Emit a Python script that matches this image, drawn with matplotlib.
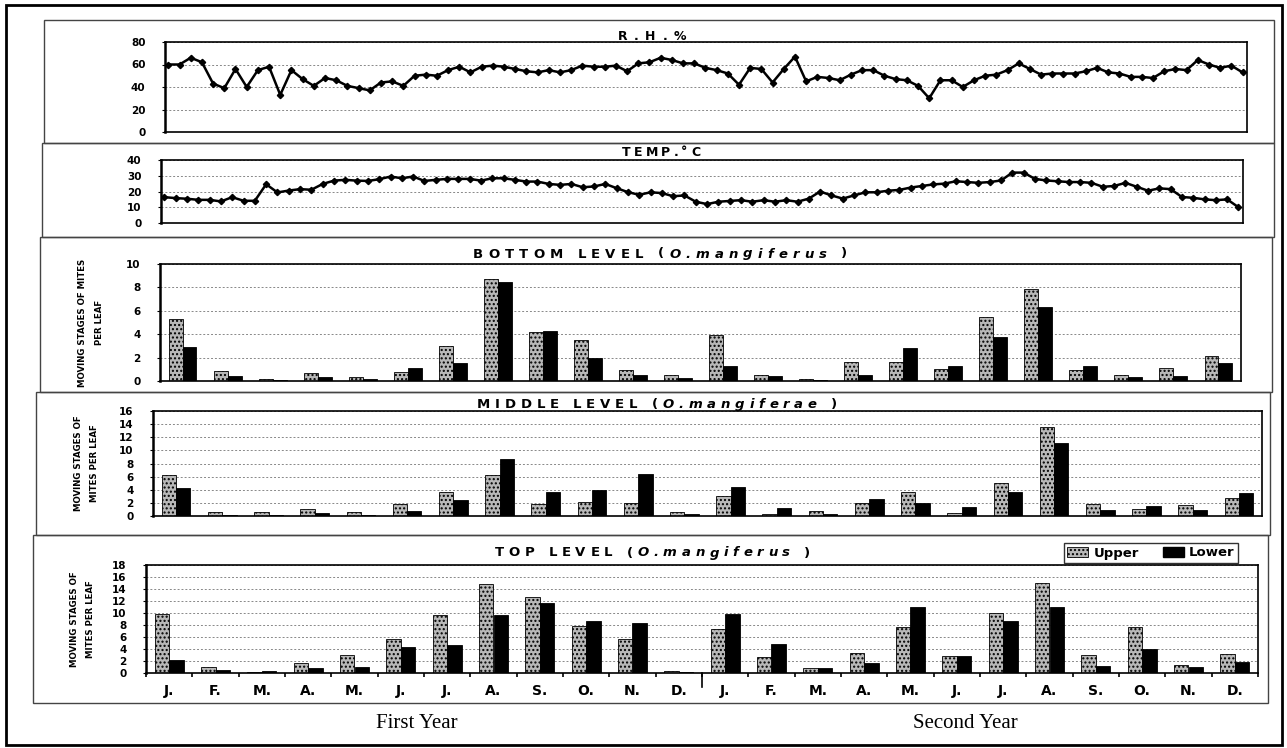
import numpy as np
import matplotlib.pyplot as plt
from matplotlib.patches import Rectangle, Patch

W, H = 1287, 748

# weekly climate readings over the two seasons
rh = [60, 60, 66, 62, 43, 39, 56, 40, 55, 58, 33, 55, 47, 41, 48, 46, 41, 39, 37, 44,
      45, 41, 50, 51, 50, 55, 58, 53, 58, 59, 58, 56, 54, 53, 55, 53, 55, 59, 58, 58,
      59, 54, 61, 62,
      66, 64, 61, 61, 57, 55, 52, 42, 57, 56, 44, 56, 67, 45, 49, 48, 46, 51, 55, 55,
      50, 47, 46, 41, 30, 46, 46, 40, 46, 50, 51, 55, 61, 56, 51, 52, 52, 52, 54, 57,
      53, 52, 49, 49, 48, 54, 56, 55, 64, 60, 57, 59, 53]
temp = [16.4, 15.8, 15.4, 14.7, 14.7, 13.7, 16.4, 14.1, 14.1, 24.6, 19.4, 20.6, 21.5,
        21.1, 24.8, 26.9, 27.4, 26.9, 26.7, 27.8, 29.5, 28.4, 29.5, 26.7, 27.4, 28.0,
        28.0, 28.0, 26.9, 28.4, 28.4, 27.4, 26.3, 26.3, 24.8, 24.2, 24.8, 22.7, 23.2,
        24.8, 22.1, 19.6, 17.9,
        19.5, 19.0, 17.0, 17.5, 13.5, 12.0, 13.5, 14.0, 14.5, 13.5, 14.5, 13.5, 14.5,
        13.5, 15.5, 20.0, 17.5, 15.5, 17.5, 19.5, 19.5, 20.5, 21.0, 22.5, 23.5, 24.5,
        25.0, 26.5, 26.0, 25.5, 26.0, 27.0, 32.0, 32.0, 28.0, 27.0, 26.5, 26.0, 26.0,
        25.5, 23.0, 23.5, 25.5, 23.0, 20.5, 22.0, 21.5, 16.5, 16.0, 15.0, 14.5, 15.0,
        10.0]

months = ["J.", "F.", "M.", "A.", "M.", "J.", "J.", "A.", "S.", "O.", "N.", "D."] * 2

# moving stages of mites per leaf, upper / lower leaf surface
bottom_upper = [5.3, 0.85, 0.2, 0.7, 0.35, 0.75, 3.0, 8.7, 4.15, 3.5, 0.9, 0.55,
                3.95, 0.55, 0.15, 1.6, 1.6, 1.0, 5.5, 7.9, 0.95, 0.5, 1.1, 2.1]
bottom_lower = [2.9, 0.45, 0.1, 0.35, 0.17, 1.1, 1.5, 8.5, 4.3, 1.95, 0.55, 0.25,
                1.25, 0.4, 0.12, 0.55, 2.8, 1.3, 3.8, 6.3, 1.3, 0.3, 0.45, 1.55]
middle_upper = [6.3, 0.55, 0.55, 1.0, 0.6, 1.9, 3.7, 6.2, 1.9, 2.1, 2.0, 0.6,
                3.0, 0.3, 0.8, 2.0, 3.6, 0.4, 5.0, 13.6, 1.9, 1.1, 1.7, 2.7]
middle_lower = [4.2, 0.15, 0.15, 0.45, 0.12, 0.7, 2.4, 8.7, 3.6, 4.0, 6.4, 0.25,
                4.4, 1.15, 0.3, 2.6, 2.0, 1.3, 3.7, 11.2, 0.9, 1.5, 0.9, 3.5]
top_upper = [9.9, 1.0, 0.2, 1.7, 3.0, 5.6, 9.7, 14.9, 12.6, 7.8, 5.6, 0.3,
             7.4, 2.7, 0.8, 3.4, 7.6, 2.8, 10.0, 15.0, 3.0, 7.6, 1.3, 3.2]
top_lower = [2.2, 0.5, 0.4, 0.8, 1.0, 4.3, 4.7, 9.6, 11.6, 8.6, 8.4, 0.1,
             9.8, 4.8, 0.8, 1.7, 11.0, 2.8, 8.6, 11.0, 1.1, 4.0, 1.0, 1.8]

plt.rcParams['font.family'] = ['DejaVu Sans']

fig = plt.figure(figsize=(W / 100, H / 100), dpi=100)
renderer = fig.canvas.get_renderer()


def px_axes(l, t, r, b):
    return fig.add_axes([l / W, 1 - b / H, (r - l) / W, (b - t) / H])


def px_frame(l, t, r, b, lw=1.0, color='#444444'):
    fig.patches.append(Rectangle((l / W, 1 - b / H), (r - l) / W, (b - t) / H,
                                 transform=fig.transFigure, fill=False,
                                 lw=lw, ec=color))


def style_axes(ax, ticks):
    ax.set_yticks(ticks)
    ax.set_ylim(ticks[0], ticks[-1])
    ax.yaxis.grid(True, color='#888888', lw=0.7, ls=(0, (2, 2)))
    ax.set_axisbelow(True)
    for s in ax.spines.values():
        s.set_linewidth(1.2)
        s.set_color('black')
    ax.spines['left'].set_linewidth(1.8)
    ax.tick_params(axis='y', length=2, pad=12, labelsize=7.5)
    for lab in ax.get_yticklabels():
        lab.set_fontweight('bold')


def tracked_title(x0, x1, y, segments, size=9.5):
    # letter-spaced heading stretched between x0 and x1 (pixels)
    chars = [(c, st) for txt, st in segments for c in txt]
    items = []
    for c, st in chars:
        t = fig.text(0, 1 - y / H, c, fontsize=size, fontweight='bold', style=st,
                     va='center', ha='left')
        w = t.get_window_extent(renderer).width if c != ' ' else size * 0.45
        items.append((t, w))
    gap = (x1 - x0 - sum(w for _, w in items)) / max(len(items) - 1, 1)
    x = x0
    for t, w in items:
        t.set_x(x / W)
        x += w + gap


# panel frames and outer border
px_frame(6, 5, 1282, 745, lw=2.0, color='black')
px_frame(44, 20, 1274, 143)
px_frame(42, 143, 1274, 237)
px_frame(40, 237, 1272, 392)
px_frame(36, 392, 1270, 535)
px_frame(33, 535, 1268, 703)

# relative humidity
ax_rh = px_axes(165, 42, 1247, 132)
x_rh = np.arange(len(rh))
ax_rh.plot(x_rh, rh, color='black', lw=1.8, marker='D', ms=3.2)
ax_rh.set_xlim(-0.3, len(rh) - 0.6)
style_axes(ax_rh, [0, 20, 40, 60, 80])
ax_rh.set_xticks([])
tracked_title(618, 686, 36, [("R.H.%", 'normal')], size=9)

# temperature
ax_t = px_axes(161, 160, 1243, 223)
x_t = np.arange(len(temp))
ax_t.plot(x_t, temp, color='black', lw=1.8, marker='D', ms=3.2)
ax_t.set_xlim(-0.3, len(temp) - 0.6)
style_axes(ax_t, [0, 10, 20, 30, 40])
ax_t.set_xticks([])
tracked_title(622, 700, 152, [("TEMP.°C", 'normal')], size=9)

ylab_kw = dict(fontsize=6.2, fontweight='bold', linespacing=2.1)
x_m = np.arange(24)
bw = 0.31
up_kw = dict(color='#b8b8b8', edgecolor='black', hatch='....', lw=0.6)
lo_kw = dict(color='black', edgecolor='black', lw=0.6)

# bottom level
ax_b = px_axes(160, 264, 1241, 381)
ax_b.bar(x_m - bw / 2, bottom_upper, bw, **up_kw)
ax_b.bar(x_m + bw / 2, bottom_lower, bw, **lo_kw)
ax_b.set_xlim(-0.5, 23.5)
style_axes(ax_b, [0, 2, 4, 6, 8, 10])
ax_b.set_xticks([])
ax_b.set_ylabel("MOVING STAGES OF MITES\nPER LEAF", labelpad=16, **ylab_kw)
tracked_title(473, 847, 254, [("BOTTOM LEVEL (", 'normal'),
                              ("O.mangiferus", 'italic'), (" )", 'normal')])

# middle level
ax_mid = px_axes(153, 411, 1262, 516)
ax_mid.bar(x_m - bw / 2, middle_upper, bw, **up_kw)
ax_mid.bar(x_m + bw / 2, middle_lower, bw, **lo_kw)
ax_mid.set_xlim(-0.5, 23.5)
style_axes(ax_mid, list(range(0, 17, 2)))
ax_mid.set_xticks([])
ax_mid.set_ylabel("MOVING STAGES OF\nMITES PER LEAF", labelpad=14, **ylab_kw)
tracked_title(477, 837, 404, [("MIDDLE LEVEL (", 'normal'),
                              ("O.mangiferae", 'italic'), (" )", 'normal')])

# top level
ax_top = px_axes(146, 565, 1258, 673)
ax_top.bar(x_m - bw / 2, top_upper, bw, label='Upper', **up_kw)
ax_top.bar(x_m + bw / 2, top_lower, bw, label='Lower', **lo_kw)
ax_top.set_xlim(-0.5, 23.5)
style_axes(ax_top, list(range(0, 19, 2)))
ax_top.set_ylabel("MOVING STAGES OF\nMITES PER LEAF", labelpad=12, **ylab_kw)
ax_top.set_xticks(x_m)
ax_top.set_xticklabels(months, fontsize=10, fontweight='bold')
ax_top.set_xticks(np.arange(-0.5, 24, 1), minor=True)
ax_top.tick_params(axis='x', which='major', length=0, pad=8)
ax_top.tick_params(axis='x', which='minor', length=3, width=1.2, direction='out')
ax_top.plot([11.5, 11.5], [0, -0.13], transform=ax_top.get_xaxis_transform(),
            color='black', lw=1.2, clip_on=False)
tracked_title(495, 810, 553, [("TOP LEVEL (", 'normal'),
                              ("O.mangiferus", 'italic'), (" )", 'normal')])

fig.legend(handles=[Patch(facecolor='#b8b8b8', edgecolor='black', hatch='....', lw=0.6),
                    Patch(facecolor='black', edgecolor='black')],
           labels=['Upper', 'Lower'], loc='center',
           bbox_to_anchor=(1151 / W, 1 - 553 / H), ncol=2, frameon=True,
           fancybox=False, edgecolor='black', borderpad=0.25, handlelength=1.6,
           handleheight=0.8, handletextpad=0.4, columnspacing=1.8,
           prop={'weight': 'bold', 'size': 9.5})

fig.text(417 / W, 1 - 723 / H, "First Year", fontsize=15, family='Liberation Serif',
         ha='center', va='center')
fig.text(965 / W, 1 - 723 / H, "Second Year", fontsize=15, family='Liberation Serif',
         ha='center', va='center')

fig.savefig('out.png', dpi=100)
